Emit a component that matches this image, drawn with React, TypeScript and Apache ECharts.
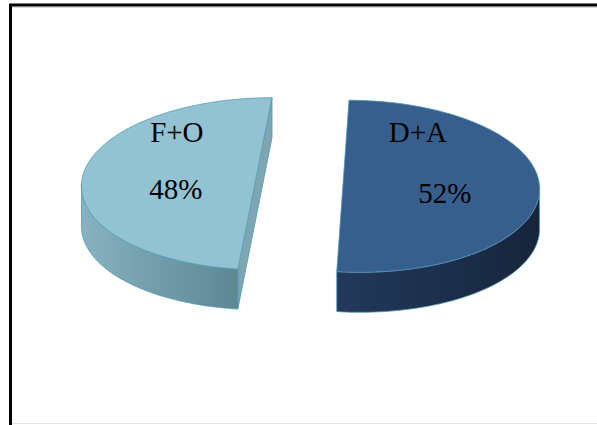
import React, { useEffect, useRef } from "react";
import * as echarts from "echarts";

const categories = ["D+A", "F+O"];
const values = [52, 48];

// layout / style (not data)
const CX = 310.5;
const CY = 185;
const RX = 185;
const RY = 86;
const DEPTH = 40;
const EXPLODE_MID = 44; // horizontal explosion at the centre line
const EXPLODE_PERSP = 5.5; // extra explosion toward the front (fake perspective)
const FONT = '"Liberation Serif", "Times New Roman", serif';

const sliceStyles = [
  {
    top: "#375F8E",
    sideA: "#22395C",
    sideB: "#16253B",
    cut: "#1E3252",
    stroke: "#4f93b0",
    labels: [
      [75, -54],
      [102, 6.5],
    ],
  },
  {
    top: "#93C2D3",
    sideA: "#88B1C1",
    sideB: "#5E8794",
    cut: "#7EA5B3",
    stroke: "#4f9db3",
    labels: [
      [-78, -52],
      [-79, 5],
    ],
  },
];

const total = values.reduce((s, v) => s + v, 0);
const starts: number[] = [];
const ends: number[] = [];
{
  let acc = 0;
  values.forEach((v) => {
    starts.push((acc / total) * 360);
    acc += v;
    ends.push((acc / total) * 360);
  });
}

const rad = (d: number) => (d * Math.PI) / 180;

function renderItem(params: any) {
  const i = params.dataIndex;
  const a = starts[i];
  const b = ends[i];
  const st = sliceStyles[i];
  const mid = rad((a + b) / 2);
  const dir = Math.sin(mid) >= 0 ? 1 : -1;
  const cy = CY - EXPLODE_MID * Math.cos(mid) * (RY / RX);
  const ex = (t: number) => dir * (EXPLODE_MID + EXPLODE_PERSP * t);
  const P = (deg: number, dz = 0) => {
    const t = -Math.cos(rad(deg));
    return [CX + ex(t) + RX * Math.sin(rad(deg)), cy - RY * Math.cos(rad(deg)) + dz];
  };
  // apex placed on the chord between the two edge points (keeps the cut straight)
  const pa = P(a);
  const pb = P(b);
  const cx = pa[0] + ((pb[0] - pa[0]) * (cy - pa[1])) / (pb[1] - pa[1]);
  const arc = (s: number, e: number, dz = 0) => {
    const n = Math.max(2, Math.ceil(e - s));
    const pts: number[][] = [];
    for (let k = 0; k <= n; k++) pts.push(P(s + ((e - s) * k) / n, dz));
    return pts;
  };
  const children: any[] = [];

  // cut faces
  const edges: [number, number][] = [
    [a, a - 90],
    [b, b + 90],
  ];
  edges.forEach(([phi, n]) => {
    const front = -Math.cos(rad(n));
    if (front > 0.01) {
      const other = phi === a ? b : a;
      children.push({
        type: "polygon",
        shape: {
          points: [P(other), P(phi), P(phi, DEPTH), P(other, DEPTH)],
        },
        style: { fill: st.cut, stroke: st.stroke, lineWidth: 0.8 },
      });
    }
  });

  // outer wall (front half)
  const s = Math.max(a, 90);
  const e = Math.min(b, 270);
  if (e > s) {
    const pts = arc(s, e, 0).concat(arc(s, e, DEPTH).reverse());
    children.push({
      type: "polygon",
      shape: { points: pts },
      style: {
        fill: new echarts.graphic.LinearGradient(0, 0, 1, 0, [
          { offset: 0, color: st.sideA },
          { offset: 1, color: st.sideB },
        ]),
        stroke: st.stroke,
        lineWidth: 0.8,
      },
    });
  }

  // top face
  children.push({
    type: "polygon",
    shape: { points: [[cx, cy]].concat(arc(a, b, 0)) },
    style: { fill: st.top, stroke: st.stroke, lineWidth: 0.8 },
  });

  // labels
  const pct = Math.round((values[i] / total) * 100) + "%";
  const texts = [categories[i], pct];
  texts.forEach((t, k) => {
    children.push({
      type: "text",
      style: {
        text: t,
        x: cx + st.labels[k][0],
        y: cy + st.labels[k][1],
        fill: "#000",
        fontSize: 29,
        fontFamily: FONT,
        align: "center",
        verticalAlign: "middle",
      },
    });
  });

  return { type: "group", children };
}

export default function App() {
  const ref = useRef<HTMLDivElement>(null);
  useEffect(() => {
    document.body.style.margin = "0";
    if (!ref.current) return;
    const chart = echarts.init(ref.current, undefined, { renderer: "svg" });
    chart.setOption({
      animation: false,
      backgroundColor: "#ffffff",
      graphic: [
        {
          type: "line",
          shape: { x1: 9, y1: 5, x2: 597, y2: 5 },
          style: { stroke: "#000", lineWidth: 3 },
          silent: true,
        },
        {
          type: "line",
          shape: { x1: 10.5, y1: 4, x2: 10.5, y2: 425 },
          style: { stroke: "#000", lineWidth: 3 },
          silent: true,
        },
        {
          type: "line",
          shape: { x1: 12, y1: 7.5, x2: 597, y2: 7.5 },
          style: { stroke: "#d8d8d8", lineWidth: 1 },
          silent: true,
        },
        {
          type: "line",
          shape: { x1: 12, y1: 423.5, x2: 597, y2: 423.5 },
          style: { stroke: "#e4e4e4", lineWidth: 1 },
          silent: true,
        },
      ],
      series: [
        {
          type: "custom",
          coordinateSystem: "none",
          renderItem,
          data: values.map((v, i) => ({ value: v, name: categories[i] })),
        },
      ],
    });
    return () => chart.dispose();
  }, []);
  return <div ref={ref} style={{ width: 597, height: 425 }} />;
}
